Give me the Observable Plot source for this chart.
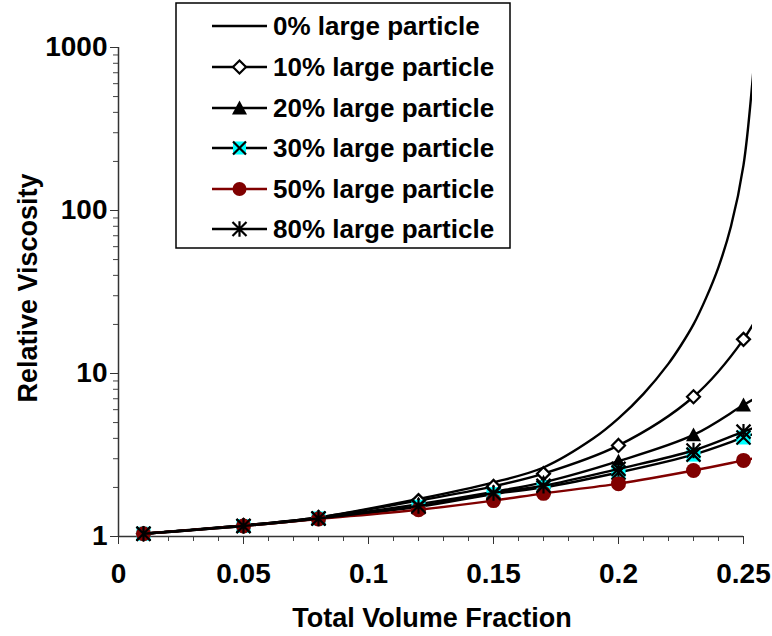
<!DOCTYPE html>
<html><head><meta charset="utf-8">
<script src="https://cdn.jsdelivr.net/npm/d3@7"></script>
<script src="https://cdn.jsdelivr.net/npm/@observablehq/plot@0.6"></script>
<style>body{margin:0;background:#fff} #chart{width:772px;height:636px}</style>
</head><body><div id="chart"></div>
<script>
// ---- data ----
const seriesNames = ["0% large particle","10% large particle","20% large particle","30% large particle","50% large particle","80% large particle"];
// 0% curve (no markers), sampled along the drawn curve
const fractions0 = [0.01,0.05,0.08,0.12,0.15,0.17,0.19,0.2,0.21,0.22,0.225,0.23,0.235,0.24,0.245,0.25,0.2535,0.255];
const pct0 = [1.04,1.17,1.31,1.70,2.15,2.65,4.0,5.3,7.5,11.5,14.9,20,29,45,80,190,600,1200];
// marker series (the last point lies beyond the clipped plot edge)
const fractions = [0.01,0.05,0.08,0.12,0.15,0.17,0.2,0.23,0.25,0.26];
const pct10 = [1.04,1.17,1.31,1.66,2.03,2.43,3.62,7.2,16.2,30];
const pct20 = [1.04,1.17,1.30,1.58,1.88,2.15,2.90,4.2,6.4,7.9];
const pct30 = [1.04,1.16,1.29,1.52,1.82,2.00,2.47,3.18,4.05,4.6];
const pct50 = [1.04,1.16,1.28,1.46,1.66,1.84,2.11,2.54,2.93,3.15];
const pct80 = [1.04,1.16,1.29,1.54,1.85,2.05,2.60,3.37,4.4,5.0];
const xMajorTicks = [0,0.05,0.1,0.15,0.2,0.25];
const xMinorTicks = [0.01,0.02,0.03,0.04,0.06,0.07,0.08,0.09,0.11,0.12,0.13,0.14,0.16,0.17,0.18,0.19,0.21,0.22,0.23,0.24];
const yMajorTicks = [1,10,100,1000];
const yMinorTicks = [2,3,4,5,6,7,8,9,20,30,40,50,60,70,80,90,200,300,400,500,600,700,800,900];
const xTitle = "Total Volume Fraction";
const yTitle = "Relative Viscosity";

// ---- symbols ----
const rad = s => Math.sqrt(s/Math.PI);
const symDiamond = {draw(c,s){const r=rad(s);c.moveTo(0,-r);c.lineTo(r,0);c.lineTo(0,r);c.lineTo(-r,0);c.closePath();}};
const symTriangle = {draw(c,s){const r=rad(s);c.moveTo(0,-r);c.lineTo(r,r*0.85);c.lineTo(-r,r*0.85);c.closePath();}};
const symSquare = {draw(c,s){const r=rad(s);c.moveTo(-r,-r);c.lineTo(r,-r);c.lineTo(r,r);c.lineTo(-r,r);c.closePath();}};
const symTimes = {draw(c,s){const r=rad(s);c.moveTo(-r,-r);c.lineTo(r,r);c.moveTo(-r,r);c.lineTo(r,-r);}};
const symStar = {draw(c,s){const r=rad(s);c.moveTo(-r,-r);c.lineTo(r,r);c.moveTo(-r,r);c.lineTo(r,-r);c.moveTo(0,-r*1.1);c.lineTo(0,r*1.1);}};

const rows = (xs, ys) => xs.map((x,i)=>({x, y: ys[i]}));
const pts = (xs, ys) => rows(xs, ys).filter(d => d.x <= 0.25);
const DARKRED = "#800000", CYAN = "#00FFFF";

const lineOpts = (stroke) => ({x:"x", y:"y", stroke, strokeWidth:2.4, curve:"catmull-rom", clip:true});

const font = "'Liberation Sans', Arial, Helvetica, sans-serif";

const chart = Plot.plot({
  width: 772, height: 636,
  marginLeft: 118, marginRight: 20, marginTop: 47, marginBottom: 100,
  x: {type:"linear", domain:[0,0.2536], axis:null},
  y: {type:"log", domain:[1,1000], axis:null},
  style: {fontFamily: font, background:"white", color:"black"},
  marks: [
    // minor ticks
    Plot.axisX({ticks:xMinorTicks, tickSize:5, tickFormat:()=>"", label:null, stroke:"#444"}),
    Plot.axisY({ticks:yMinorTicks, tickSize:5, tickFormat:()=>"", label:null, stroke:"#444"}),
    // major ticks with labels
    Plot.axisX({ticks:xMajorTicks, tickSize:8, tickPadding:19, tickFormat:d=>String(d), label:null,
      fontSize:28, fontWeight:"bold", stroke:"#333"}),
    Plot.axisY({ticks:yMajorTicks, tickSize:8, tickPadding:3, tickFormat:d=>String(d), label:null,
      fontSize:28, fontWeight:"bold", stroke:"#333"}),
    // axis lines
    Plot.ruleY([1], {x1:0, x2:0.25, stroke:"#333", strokeWidth:1.5}),
    Plot.ruleX([0], {y1:1, y2:1000, stroke:"#333", strokeWidth:1.5}),
    // series 0%
    Plot.line(rows(fractions0, pct0), lineOpts("black")),
    // 10%
    Plot.line(rows(fractions, pct10), lineOpts("black")),
    Plot.dot(pts(fractions, pct10), {x:"x", y:"y", r:6.5, symbol:symDiamond, fill:"white", stroke:"black", strokeWidth:2.2}),
    // 20%
    Plot.line(rows(fractions, pct20), lineOpts("black")),
    Plot.dot(pts(fractions, pct20), {x:"x", y:"y", r:7.5, symbol:symTriangle, fill:"black", stroke:"none"}),
    // 30%
    Plot.line(rows(fractions, pct30), lineOpts("black")),
    Plot.dot(pts(fractions, pct30), {x:"x", y:"y", r:7, symbol:symSquare, fill:CYAN, stroke:"none"}),
    Plot.dot(pts(fractions, pct30), {x:"x", y:"y", r:7, symbol:symTimes, fill:"none", stroke:"black", strokeWidth:2.2}),
    // 50%
    Plot.line(rows(fractions, pct50), lineOpts(DARKRED)),
    Plot.dot(pts(fractions, pct50), {x:"x", y:"y", r:7.5, symbol:"circle", fill:DARKRED, stroke:"none"}),
    // 80%
    Plot.line(rows(fractions, pct80), lineOpts("black")),
    Plot.dot(pts(fractions, pct80), {x:"x", y:"y", r:7, symbol:symStar, fill:"none", stroke:"black", strokeWidth:2.2})
  ]
});
document.getElementById("chart").appendChild(chart);

// ---- titles and legend ----
const svg = d3.select(chart);
svg.append("text").attr("x", 432).attr("y", 627).attr("text-anchor","middle")
  .attr("font-family", font).attr("font-size", 27).attr("font-weight","bold").attr("fill","black").text(xTitle);
svg.append("text").attr("transform","translate(37,288) rotate(-90)").attr("text-anchor","middle")
  .attr("font-family", font).attr("font-size", 27).attr("font-weight","bold").attr("fill","black").text(yTitle);

const lg = svg.append("g");
lg.append("rect").attr("x",176).attr("y",3).attr("width",334).attr("height",245)
  .attr("fill","white").attr("stroke","black").attr("stroke-width",1.5);
const legendStyles = [
  {stroke:"black"},
  {stroke:"black", marks:[{sym:symDiamond, r:6.5, fill:"white", stroke:"black"}]},
  {stroke:"black", marks:[{sym:symTriangle, r:7.5, fill:"black", stroke:"none"}]},
  {stroke:"black", marks:[{sym:symSquare, r:6.5, fill:CYAN, stroke:"none"},{sym:symTimes, r:6.5, fill:"none", stroke:"black"}]},
  {stroke:DARKRED, marks:[{sym:d3.symbolCircle, r:7, fill:DARKRED, stroke:"none"}]},
  {stroke:"black", marks:[{sym:symStar, r:7, fill:"none", stroke:"black"}]}
];
const rowY = [26,67,108,148,189,229];
seriesNames.forEach((name,i)=>{
  const y = rowY[i], st = legendStyles[i];
  lg.append("line").attr("x1",212).attr("x2",267).attr("y1",y).attr("y2",y).attr("stroke",st.stroke).attr("stroke-width",2.4);
  (st.marks||[]).forEach(m=>{
    lg.append("path").attr("transform",`translate(239.5,${y})`)
      .attr("d", d3.symbol(m.sym, m.r*m.r*Math.PI)()).attr("fill",m.fill).attr("stroke",m.stroke).attr("stroke-width",2.2);
  });
  lg.append("text").attr("x",273).attr("y",y).attr("dy","0.35em").attr("text-anchor","start").attr("font-family",font)
    .attr("font-size",26).attr("font-weight","bold").attr("fill","black").text(name);
});
</script>
</body></html>
